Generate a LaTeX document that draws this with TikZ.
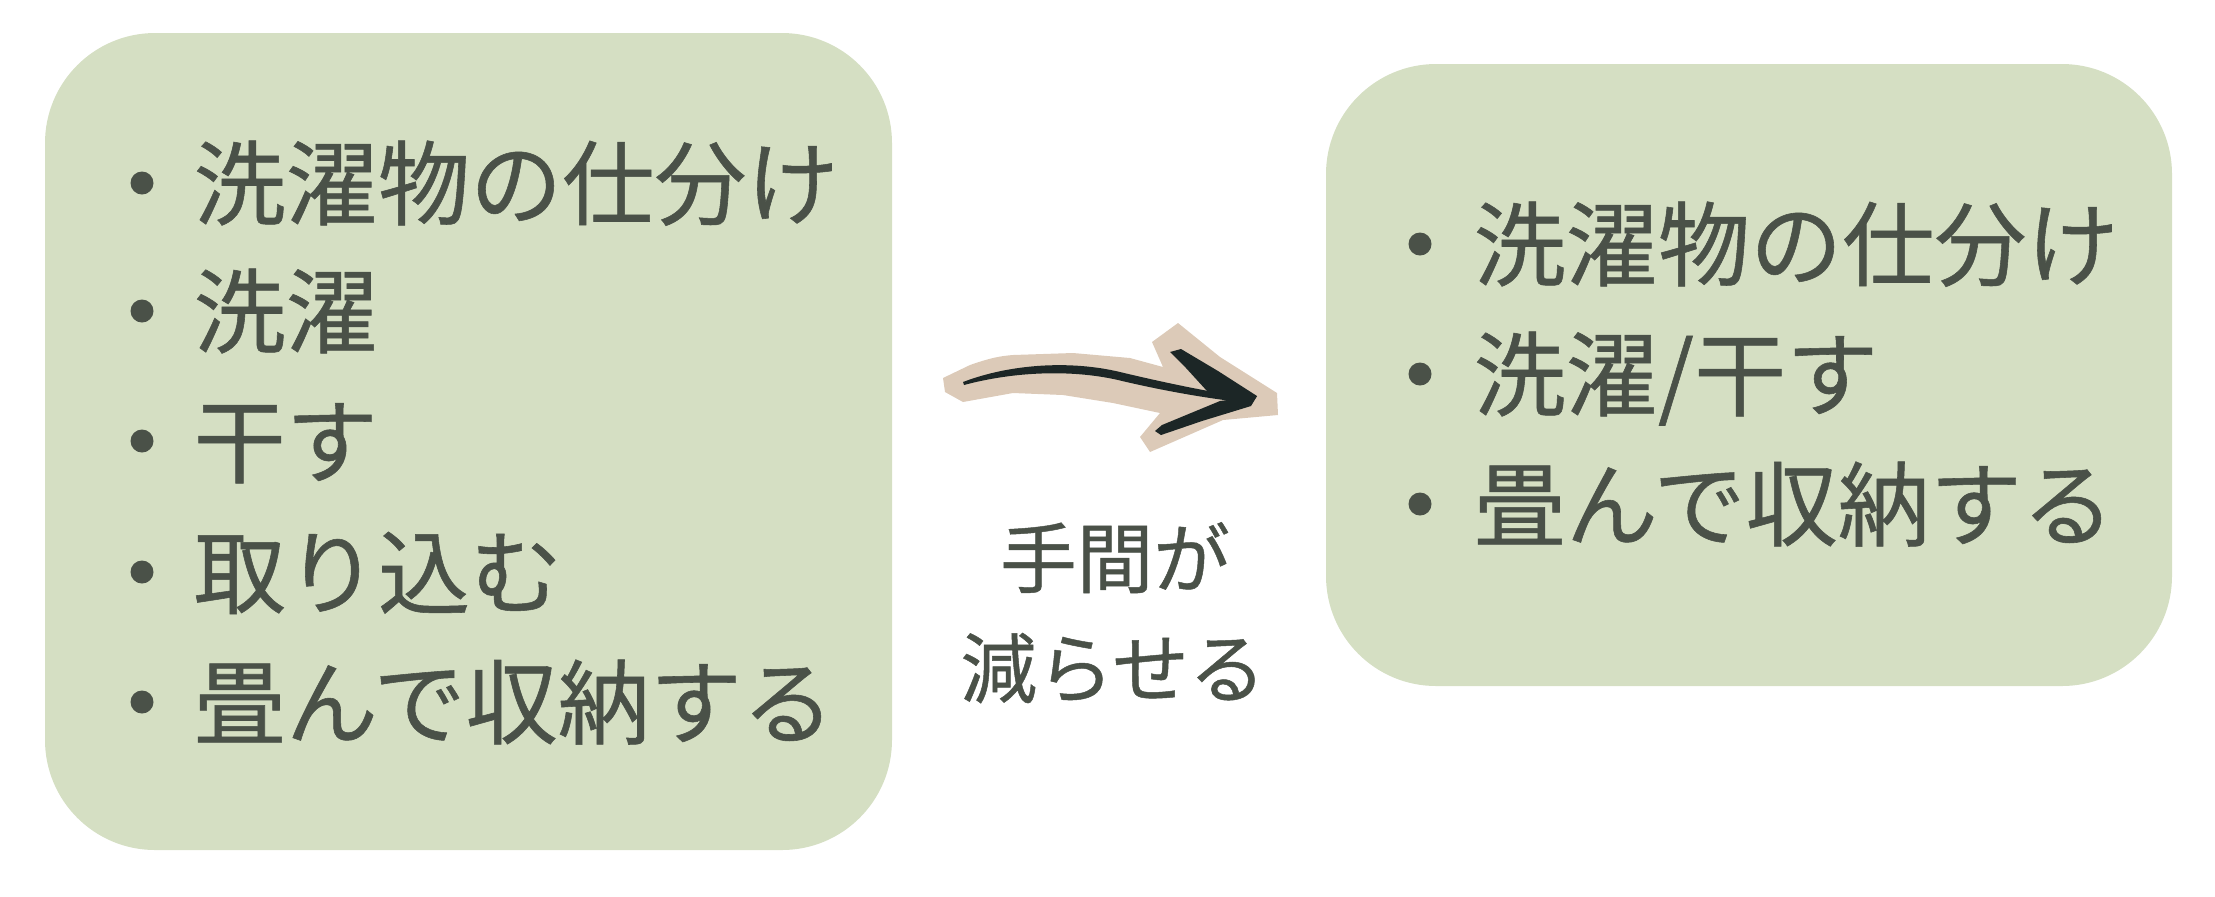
\documentclass[tikz,border=0pt]{standalone}
\usepackage{fontspec}
\setmainfont{Noto Sans CJK JP}[FakeBold=0.6]
\definecolor{boxfill}{HTML}{D5DFC3}
\definecolor{txt}{HTML}{4A5148}
\definecolor{beige}{HTML}{DCCAB8}
\definecolor{ink}{HTML}{1C2626}
\tikzset{
  item/.style={anchor=base west, inner sep=0pt, text=txt, font=\fontsize{26.2pt}{30pt}\selectfont},
  mid/.style={anchor=base, inner sep=0pt, text=txt, font=\fontsize{21.8pt}{26pt}\selectfont},
  bul/.style={fill=txt},
  panel/.style={fill=boxfill, rounded corners=1.1cm}
}
\begin{document}
\begin{tikzpicture}[x=0.01cm,y=-0.01cm]
\useasboundingbox (0,0) rectangle (2215,896);
% panels
\fill[panel] (45,33) rectangle (892,850);
\fill[panel] (1326,64) rectangle (2172,686);
% left list
\foreach \yy in {183,311,441,572,702}{ \fill[bul] (142,\yy) circle (11.5); }
\node[item] (l1) at (193,218) {洗濯物の仕分け};
\node[item] (l2) at (193,346) {洗濯};
\node[item] (l3) at (193,476) {干す};
\node[item] (l4) at (193,607) {取り込む};
\node[item] (l5) at (193,737) {畳んで収納する};
% right list
\foreach \yy in {244,374,504}{ \fill[bul] (1420,\yy) circle (11.5); }
\node[item] (r1) at (1473,279) {洗濯物の仕分け};
\node[item] (r2) at (1473,409) {洗濯/干す};
\node[item] (r3) at (1473,539) {畳んで収納する};
% middle label
\node[mid] (m1) at (1115,587) {手間が};
\node[mid] (m2) at (1113,697) {減らせる};
% beige backing of arrow
\fill[beige] (943,378) -- (970,365) .. controls (990,358) and (1000,356) .. (1013,355)
  -- (1073,353) -- (1130,358) -- (1163,367) -- (1152,342) -- (1178,323)
  -- (1220,357) -- (1277,393) -- (1278,415) -- (1223,420) -- (1150,452)
  -- (1140,437) -- (1160,413) -- (1113,403) -- (1063,395) -- (1013,393)
  -- (963,402) -- (945,392) -- cycle;
% black arrow shaft (tapered)
\fill[ink] (963,382) .. controls (1010,364) and (1070,360) .. (1120,372)
  .. controls (1170,384) and (1220,394) .. (1252,398)
  -- (1250,403)
  .. controls (1218,400) and (1168,392) .. (1118,380)
  .. controls (1070,369) and (1012,372) .. (964,385) -- cycle;
% arrowhead barbs
\fill[ink] (1170,352) -- (1181,349) -- (1218,371) -- (1257,396) -- (1251,405)
  -- (1207,391) -- (1186,368) -- cycle;
\fill[ink] (1155,431) -- (1162,425) -- (1220,401) -- (1257,396) -- (1251,406)
  -- (1202,421) -- (1161,435) -- cycle;
\end{tikzpicture}
\end{document}
